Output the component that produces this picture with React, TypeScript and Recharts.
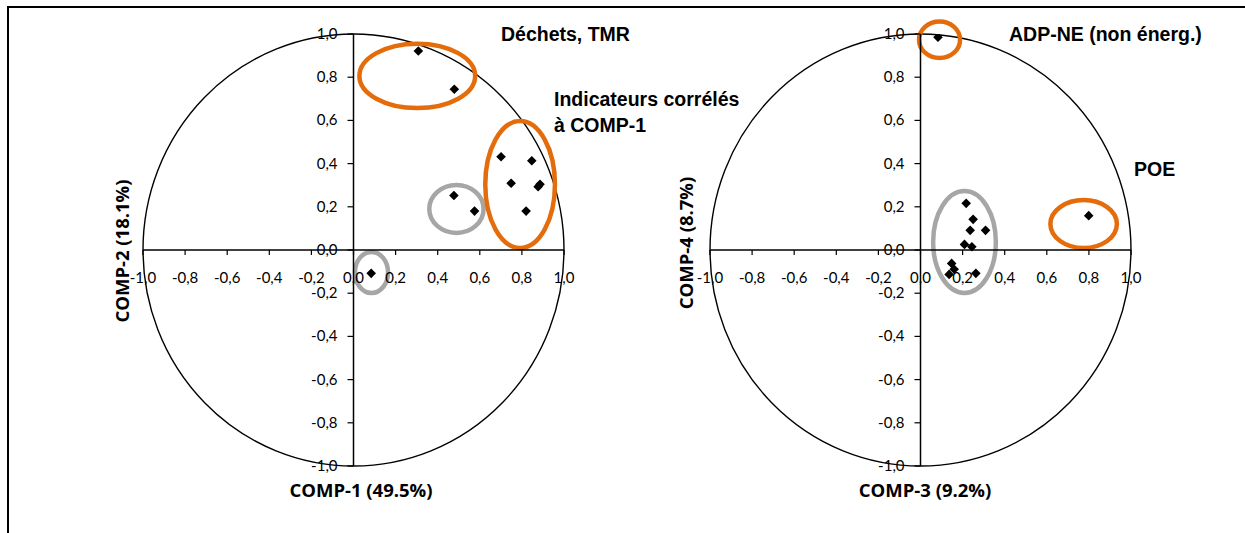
import React from 'react';
import { ScatterChart, Scatter, XAxis, YAxis, ReferenceLine, ReferenceArea, ReferenceDot } from 'recharts';

// ---- Data: left plane (COMP-1 vs COMP-2)
const comp1 = [0.308, 0.479, 0.701, 0.847, 0.749, 0.877, 0.886, 0.82, 0.477, 0.575, 0.084];
const comp2 = [0.921, 0.744, 0.432, 0.413, 0.309, 0.293, 0.304, 0.18, 0.252, 0.18, -0.108];

// ---- Data: right plane (COMP-3 vs COMP-4)
const comp3 = [0.083, 0.799, 0.217, 0.25, 0.236, 0.309, 0.209, 0.244, 0.148, 0.16, 0.136, 0.263];
const comp4 = [0.985, 0.159, 0.216, 0.142, 0.091, 0.091, 0.026, 0.015, -0.062, -0.089, -0.113, -0.108];

// ---- Axis ticks
const tickValues = [-1, -0.8, -0.6, -0.4, -0.2, 0, 0.2, 0.4, 0.6, 0.8, 1];
const tickLabels = ['-1,0', '-0,8', '-0,6', '-0,4', '-0,2', '0,0', '0,2', '0,4', '0,6', '0,8', '1,0'];

// ---- Highlight ellipses (data-space bounds): [x1, x2, y1, y2]
const leftOrange = [
  [0.028, 0.578, 0.657, 0.955],
  [0.626, 0.957, 0.009, 0.597],
];
const leftGray = [
  [0.36, 0.618, 0.079, 0.301],
  [0.007, 0.164, -0.199, -0.009],
];
const rightOrange = [
  [-0.007, 0.188, 0.889, 1.058],
  [0.617, 0.933, 0.009, 0.231],
];
const rightGray = [[0.06, 0.358, -0.199, 0.273]];

const ORANGE = '#E46C0A';
const GRAY = '#A6A6A6';
const TICK_FONT = 'Lato, "Open Sans", sans-serif';
const AXIS_TITLE_FONT = '"Open Sans", "Noto Sans", sans-serif';
const TITLE_FONT = '"Liberation Sans", Arial, sans-serif';

const leftData = comp1.map((x, i) => ({ x, y: comp2[i] }));
const rightData = comp3.map((x, i) => ({ x, y: comp4[i] }));

const Diamond = (p: any) => {
  const { cx, cy } = p;
  if (cx == null || cy == null) return null;
  const r = 4.8;
  return (
    <polygon
      points={`${cx},${cy - r} ${cx + r},${cy} ${cx},${cy + r} ${cx - r},${cy}`}
      fill="#000"
    />
  );
};

const ellipseShape = (color: string, sw: number) => (p: any) => {
  const { x, y, width, height } = p;
  if (x == null) return null;
  return (
    <ellipse
      cx={x + width / 2}
      cy={y + height / 2}
      rx={Math.abs(width) / 2}
      ry={Math.abs(height) / 2}
      fill="none"
      stroke={color}
      strokeWidth={sw}
    />
  );
};

const xTickShape = (label: string) => (p: any) => {
  const { cx, cy } = p;
  if (cx == null) return null;
  return (
    <g>
      <line x1={cx} y1={cy} x2={cx} y2={cy + 5} stroke="#000" strokeWidth={1.2} />
      <text x={cx} y={cy + 33} textAnchor="middle" fontFamily={TICK_FONT} fontSize={15} fill="#000">
        {label}
      </text>
    </g>
  );
};

const yTickShape = (label: string) => (p: any) => {
  const { cx, cy } = p;
  if (cx == null) return null;
  return (
    <g>
      <line x1={cx - 6} y1={cy} x2={cx} y2={cy} stroke="#000" strokeWidth={1.2} />
      <text x={cx - 16} y={cy + 5} textAnchor="end" fontFamily={TICK_FONT} fontSize={15} fill="#000">
        {label}
      </text>
    </g>
  );
};

function Plane({ data, orange, gray, width, margin }: any) {
  return (
    <ScatterChart width={width} height={533} margin={margin}>
      <XAxis type="number" dataKey="x" domain={[-1, 1]} hide allowDataOverflow />
      <YAxis type="number" dataKey="y" domain={[-1, 1]} hide allowDataOverflow />
      <ReferenceArea
        x1={-1}
        x2={1}
        y1={-1}
        y2={1}
        ifOverflow="visible"
        shape={ellipseShape('#000', 1.4)}
      />
      <ReferenceLine y={0} stroke="#000" strokeWidth={1.5} ifOverflow="visible" />
      <ReferenceLine x={0} stroke="#000" strokeWidth={1.5} ifOverflow="visible" />
      {tickValues.map((v, i) => (
        <ReferenceDot
          key={'xt' + i}
          x={v}
          y={0}
          r={0}
          ifOverflow="visible"
          shape={xTickShape(tickLabels[i])}
        />
      ))}
      {tickValues.map((v, i) => (
        <ReferenceDot
          key={'yt' + i}
          x={0}
          y={v}
          r={0}
          ifOverflow="visible"
          shape={yTickShape(tickLabels[i])}
        />
      ))}
      {gray.map((e: number[], i: number) => (
        <ReferenceArea
          key={'g' + i}
          x1={e[0]}
          x2={e[1]}
          y1={e[2]}
          y2={e[3]}
          ifOverflow="visible"
          shape={ellipseShape(GRAY, 4.5)}
        />
      ))}
      {orange.map((e: number[], i: number) => (
        <ReferenceArea
          key={'o' + i}
          x1={e[0]}
          x2={e[1]}
          y1={e[2]}
          y2={e[3]}
          ifOverflow="visible"
          shape={ellipseShape(ORANGE, 4.5)}
        />
      ))}
      <Scatter data={data} shape={Diamond} isAnimationActive={false} />
    </ScatterChart>
  );
}

export default function App() {
  return (
    <div style={{ position: 'absolute', left: 0, top: 0, width: 1245, height: 533, background: '#fff', overflow: 'hidden' }}>
      <div style={{ position: 'absolute', left: 7, top: 6, width: 1238, height: 2, background: '#000' }} />
      <div style={{ position: 'absolute', left: 7, top: 6, width: 2, height: 527, background: '#000' }} />
      <div style={{ position: 'absolute', left: 0, top: 0 }}>
        <Plane data={leftData} orange={leftOrange} gray={leftGray} width={620} margin={{ top: 34, bottom: 67, left: 143, right: 56 }} />
      </div>
      <div style={{ position: 'absolute', left: 620, top: 0 }}>
        <Plane data={rightData} orange={rightOrange} gray={rightGray} width={625} margin={{ top: 34, bottom: 67, left: 90, right: 114 }} />
      </div>
      <svg width={1245} height={533} style={{ position: 'absolute', left: 0, top: 0, pointerEvents: 'none' }}>
        <g fontFamily={TITLE_FONT} fontWeight="bold" fontSize={19.5} fill="#000">
          <text x={501} y={41}>Déchets, TMR</text>
          <text x={554} y={106}>Indicateurs corrélés</text>
          <text x={554} y={132}>à COMP-1</text>
          <text x={1009} y={41}>ADP-NE (non énerg.)</text>
          <text x={1134} y={176}>POE</text>
        </g>
        <g fontFamily={AXIS_TITLE_FONT} fontWeight={700} fontSize={18.5} fill="#000">
          <text x={361} y={497} textAnchor="middle">COMP-1 (49.5%)</text>
          <text x={925} y={497} textAnchor="middle">COMP-3 (9.2%)</text>
          <text x={129} y={251} textAnchor="middle" transform="rotate(-90 129 251)">COMP-2 (18.1%)</text>
          <text x={693} y={243} textAnchor="middle" transform="rotate(-90 693 243)">COMP-4 (8.7%)</text>
        </g>
      </svg>
    </div>
  );
}
